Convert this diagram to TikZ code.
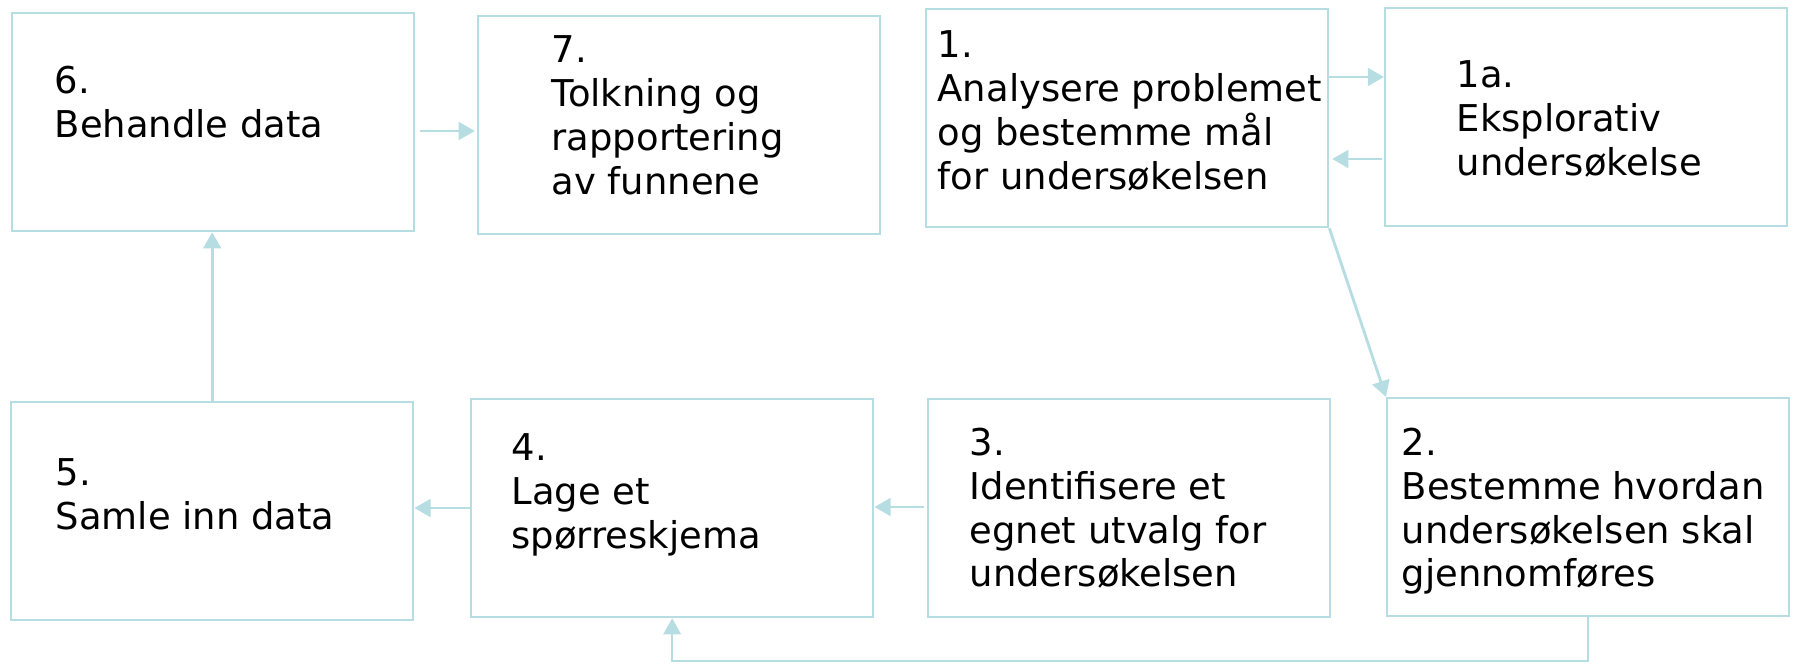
\documentclass[tikz,border=0pt]{standalone}
\usepackage{fontspec}
\setmainfont{DejaVu Sans}
\usetikzlibrary{arrows.meta}
\definecolor{boxblue}{RGB}{182,222,226}
\begin{document}
\begin{tikzpicture}[x=0.01cm, y=-0.01cm,
	box/.style={draw=boxblue, line width=0.6pt, rectangle, anchor=north west, inner sep=0, minimum width=4.02cm, minimum height=2.18cm},
	lbl/.style={anchor=north west, inner sep=0, align=left, font=\fontsize{10.5}{12.5}\selectfont},
	arr/.style={draw=boxblue, line width=0.8pt, -{Triangle[length=4.6pt, width=5pt]}}]
	\useasboundingbox (0,0) rectangle (1793,663);
	
	%top row
	\node (b6) at (11,12) [box]{};
	\node (b7) at (477,15) [box]{};
	\node (b1) at (925,8) [box]{};
	\node (b1a) at (1384,7) [box]{};
	
	%bottom row
	\node (b5) at (10,401) [box]{};
	\node (b4) at (470,398) [box]{};
	\node (b3) at (927,398) [box]{};
	\node (b2) at (1386,397) [box]{};
	
	\node (t6) at (54,65) [lbl]{6.\\Behandle data};
	\node (t7) at (551,35) [lbl]{7.\\Tolkning og\\rapportering\\av funnene};
	\node (t1) at (937,30) [lbl]{1.\\Analysere problemet\\og bestemme mål\\for undersøkelsen};
	\node (t1a) at (1456,60) [lbl]{1a.\\Eksplorativ\\undersøkelse};
	\node (t5) at (55,458) [lbl]{5.\\Samle inn data};
	\node (t4) at (511,433) [lbl]{4.\\Lage et\\spørreskjema};
	\node (t3) at (969,427) [lbl]{3.\\Identifisere et\\egnet utvalg for\\undersøkelsen};
	\node (t2) at (1401,427) [lbl]{2.\\Bestemme hvordan\\undersøkelsen skal\\gjennomføres};
	
	%arrows
	\draw[arr, shorten <=1.4pt, shorten >=0.6pt] (b6.east |- 0,131) -- (b7.west |- 0,131);
	\draw[arr] (b1.east |- 0,77) -- (b1a.west |- 0,77);
	\draw[arr, shorten <=0.5pt, shorten >=0.8pt] (b1a.west |- 0,159) -- (b1.east |- 0,159);
	\draw[arr] (b1.south east) -- (b2.north west);
	\draw[arr, shorten <=0.8pt] (b3.west |- 0,507) -- (b4.east |- 0,507);
	\draw[arr] (b4.west |- 0,508) -- (b5.east |- 0,508);
	\draw[arr] (b5.north) -- (b5.north |- b6.south);
	\draw[arr, line width=0.6pt] (b2.south) -- ++(0,44) -| (b4.south);
\end{tikzpicture}
\end{document}
